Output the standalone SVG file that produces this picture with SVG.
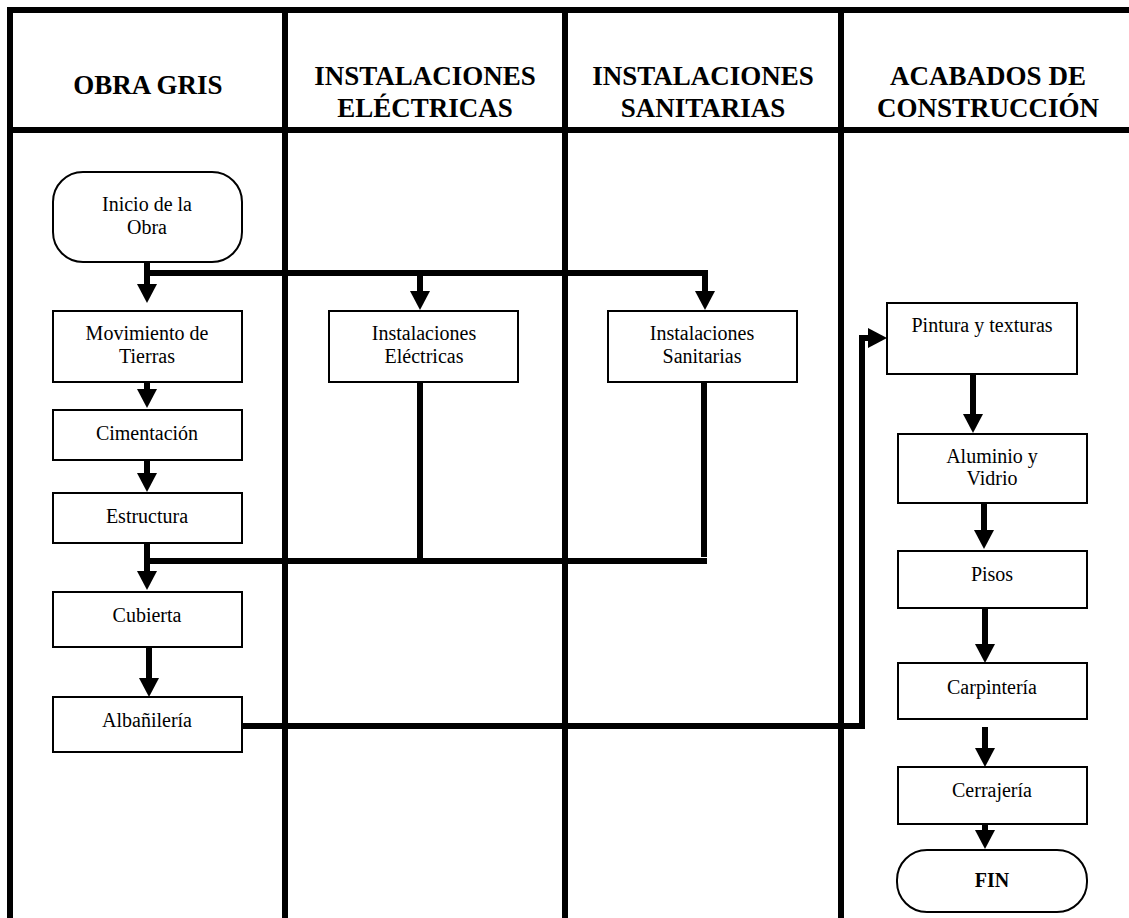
<svg xmlns="http://www.w3.org/2000/svg" width="1129" height="918" viewBox="0 0 1129 918">
  <style>
    .lane { stroke: #000; stroke-width: 6; fill: none; }
    .hdr { font-family: "Liberation Serif", "Times New Roman", serif; font-size: 27px; font-weight: bold; text-anchor: middle; fill: #000; }
    .box { fill: #fff; stroke: #000; stroke-width: 2; }
    .lbl { font-family: "Liberation Serif", "Times New Roman", serif; font-size: 20px; text-anchor: middle; fill: #000; }
    .bold { font-weight: bold; }
    .flow { stroke: #000; stroke-width: 6; fill: none; stroke-linejoin: miter; }
    .flow-a { stroke: #000; stroke-width: 6; fill: none; marker-end: url(#head); }
  </style>
  <defs>
    <marker id="head" markerUnits="userSpaceOnUse" viewBox="0 0 19 20" markerWidth="19" markerHeight="20" refX="0" refY="10" orient="auto">
      <path d="M0,0 L19,10 L0,20 Z" fill="#000"/>
    </marker>
  </defs>
  <rect width="1129" height="918" fill="#fff"/>

  <!-- swimlane grid -->
  <g id="lanes">
    <path class="lane" d="M7,10 H1129 M7,130 H1129 M10,7 V918 M285,7 V918 M565,7 V918 M841,7 V918"/>
    <text class="hdr" x="148" y="94">OBRA GRIS</text>
    <text class="hdr" x="425" y="85">INSTALACIONES</text>
    <text class="hdr" x="425" y="117">ELÉCTRICAS</text>
    <text class="hdr" x="703" y="85">INSTALACIONES</text>
    <text class="hdr" x="703" y="117">SANITARIAS</text>
    <text class="hdr" x="988" y="85">ACABADOS DE</text>
    <text class="hdr" x="988" y="117">CONSTRUCCIÓN</text>
  </g>

  <!-- connectors -->
  <g id="connectors">
    <path class="flow-a" d="M147,262 V284"/>
    <path class="flow" d="M147,273 H705"/>
    <path class="flow-a" d="M420,273 V291"/>
    <path class="flow-a" d="M705,270 V291"/>
    <path class="flow-a" d="M147,382 V389"/>
    <path class="flow-a" d="M147,460 V473"/>
    <path class="flow-a" d="M147,543 V571"/>
    <path class="flow" d="M420,382 V561 M704,382 V557 M147,561 H707"/>
    <path class="flow-a" d="M149,647 V678"/>
    <path class="flow" d="M242,726 H862 V338 H869"/>
    <path class="flow-a" d="M866,338 H868"/>
    <path class="flow-a" d="M973,374 V414"/>
    <path class="flow-a" d="M984,503 V530"/>
    <path class="flow-a" d="M985,608 V644"/>
    <path class="flow-a" d="M985,727 V748"/>
    <path class="flow-a" d="M985,824 V830"/>
  </g>

  <g id="inicio">
    <rect class="box" x="53" y="172" width="189" height="90" rx="30" ry="30"/>
    <text class="lbl" x="147" y="211">Inicio de la</text>
    <text class="lbl" x="147" y="234">Obra</text>
  </g>
  <g id="movimiento">
    <rect class="box" x="53" y="311" width="189" height="71"/>
    <text class="lbl" x="147" y="340">Movimiento de</text>
    <text class="lbl" x="147" y="363">Tierras</text>
  </g>
  <g id="cimentacion">
    <rect class="box" x="53" y="410" width="189" height="50"/>
    <text class="lbl" x="147" y="440">Cimentación</text>
  </g>
  <g id="estructura">
    <rect class="box" x="53" y="493" width="189" height="50"/>
    <text class="lbl" x="147" y="523">Estructura</text>
  </g>
  <g id="cubierta">
    <rect class="box" x="53" y="592" width="189" height="55"/>
    <text class="lbl" x="147" y="622">Cubierta</text>
  </g>
  <g id="albanileria">
    <rect class="box" x="53" y="697" width="189" height="55"/>
    <text class="lbl" x="147" y="727">Albañilería</text>
  </g>
  <g id="electricas">
    <rect class="box" x="329" y="311" width="189" height="71"/>
    <text class="lbl" x="424" y="340">Instalaciones</text>
    <text class="lbl" x="424" y="363">Eléctricas</text>
  </g>
  <g id="sanitarias">
    <rect class="box" x="608" y="311" width="189" height="71"/>
    <text class="lbl" x="702" y="340">Instalaciones</text>
    <text class="lbl" x="702" y="363">Sanitarias</text>
  </g>
  <g id="pintura">
    <rect class="box" x="887" y="303" width="190" height="71"/>
    <text class="lbl" x="982" y="332">Pintura y texturas</text>
  </g>
  <g id="aluminio">
    <rect class="box" x="898" y="434" width="189" height="69"/>
    <text class="lbl" x="992" y="463">Aluminio y</text>
    <text class="lbl" x="992" y="485">Vidrio</text>
  </g>
  <g id="pisos">
    <rect class="box" x="898" y="551" width="189" height="57"/>
    <text class="lbl" x="992" y="581">Pisos</text>
  </g>
  <g id="carpinteria">
    <rect class="box" x="898" y="663" width="189" height="56"/>
    <text class="lbl" x="992" y="694">Carpintería</text>
  </g>
  <g id="cerrajeria">
    <rect class="box" x="898" y="767" width="189" height="57"/>
    <text class="lbl" x="992" y="797">Cerrajería</text>
  </g>
  <g id="fin">
    <rect class="box" x="897" y="850" width="190" height="62" rx="30" ry="30"/>
    <text class="lbl bold" x="992" y="887">FIN</text>
  </g>
</svg>
